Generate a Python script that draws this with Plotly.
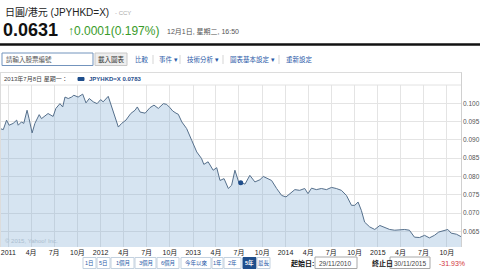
import plotly.graph_objects as go

# ---------------- data ----------------
dates = [
    "2010-11-29", "2010-12-12", "2010-12-25", "2011-01-04", "2011-01-20", "2011-02-03",
    "2011-02-09", "2011-02-22", "2011-03-03", "2011-03-16", "2011-03-24", "2011-04-05",
    "2011-04-16", "2011-05-03", "2011-05-12", "2011-05-25", "2011-06-07", "2011-06-27",
    "2011-07-08", "2011-07-24", "2011-08-04", "2011-08-13", "2011-08-26", "2011-09-08",
    "2011-09-17", "2011-10-04", "2011-10-22", "2011-11-04", "2011-11-17", "2011-12-03",
    "2011-12-18", "2012-01-01", "2012-01-11", "2012-01-31", "2012-02-10", "2012-02-27",
    "2012-03-11", "2012-03-24", "2012-04-10", "2012-04-29", "2012-05-16", "2012-05-25",
    "2012-06-05", "2012-06-25", "2012-07-14", "2012-07-30", "2012-08-16", "2012-09-05",
    "2012-09-18", "2012-10-01", "2012-10-12", "2012-10-25", "2012-11-03", "2012-11-17",
    "2012-12-06", "2012-12-26", "2013-01-15", "2013-02-03", "2013-02-12", "2013-03-01",
    "2013-03-21", "2013-04-04", "2013-04-17", "2013-05-03", "2013-05-20", "2013-06-02",
    "2013-06-15", "2013-07-02", "2013-07-08", "2013-07-25", "2013-08-13", "2013-09-02",
    "2013-09-22", "2013-10-05", "2013-10-25", "2013-11-07", "2013-11-27", "2013-12-17",
    "2014-01-03", "2014-01-19", "2014-02-07", "2014-02-26", "2014-03-18", "2014-03-31",
    "2014-04-14", "2014-05-03", "2014-05-23", "2014-06-12", "2014-07-02", "2014-07-21",
    "2014-08-10", "2014-08-30", "2014-09-19", "2014-10-02", "2014-10-15", "2014-10-28",
    "2014-11-10", "2014-11-30", "2014-12-20", "2015-01-09", "2015-01-28", "2015-02-17",
    "2015-03-09", "2015-03-29", "2015-04-17", "2015-05-06", "2015-05-26", "2015-06-15",
    "2015-07-05", "2015-07-24", "2015-08-13", "2015-08-30", "2015-09-15", "2015-10-05",
    "2015-10-18", "2015-11-08", "2015-11-30",
]
values = [
    0.0931, 0.0928, 0.0954, 0.0940, 0.0945, 0.0954,
    0.0940, 0.0949, 0.0945, 0.0981, 0.0958, 0.0919,
    0.0945, 0.0969, 0.0958, 0.0964, 0.0972, 0.0964,
    0.0986, 0.0999, 0.0990, 0.1017, 0.1013, 0.1017,
    0.1022, 0.1017, 0.1025, 0.1001, 0.1013, 0.1004,
    0.0999, 0.1010, 0.1004, 0.1019, 0.0999, 0.0967,
    0.0935, 0.0945, 0.0954, 0.0972, 0.0981, 0.0990,
    0.0976, 0.0973, 0.0988, 0.0995, 0.0986, 0.0999,
    0.0997, 0.0988, 0.0979, 0.0973, 0.0970, 0.0949,
    0.0931, 0.0899, 0.0867, 0.0849, 0.0833, 0.0840,
    0.0817, 0.0824, 0.0789, 0.0794, 0.0767, 0.0776,
    0.0817, 0.0780, 0.0783, 0.0779, 0.0803, 0.0785,
    0.0791, 0.0800, 0.0794, 0.0789, 0.0767, 0.0748,
    0.0744, 0.0753, 0.0764, 0.0762, 0.0767, 0.0753,
    0.0768, 0.0764, 0.0767, 0.0764, 0.0770, 0.0767,
    0.0762, 0.0748, 0.0721, 0.0721, 0.0730, 0.0707,
    0.0675, 0.0662, 0.0655, 0.0666, 0.0660, 0.0655,
    0.0653, 0.0655, 0.0655, 0.0653, 0.0634, 0.0633,
    0.0639, 0.0632, 0.0639, 0.0648, 0.0651, 0.0655,
    0.0645, 0.0642, 0.0634,
]

hover_date = "2013-07-08"
hover_value = 0.0783

x_tick_dates = [
    "2011-01-01", "2011-04-01", "2011-07-01", "2011-10-01",
    "2012-01-01", "2012-04-01", "2012-07-01", "2012-10-01",
    "2013-01-01", "2013-04-01", "2013-07-01", "2013-10-01",
    "2014-01-01", "2014-04-01", "2014-07-01", "2014-10-01",
    "2015-01-01", "2015-04-01", "2015-07-01", "2015-10-01",
]
x_tick_labels = [
    "2011", "4月", "7月", "10月", "2012", "4月", "7月", "10月",
    "2013", "4月", "7月", "10月", "2014", "4月", "7月", "10月",
    "2015", "4月", "7月", "10月",
]
y_tick_values = [0.065, 0.070, 0.075, 0.080, 0.085, 0.090, 0.095, 0.100]
y_tick_labels = ["0.065", "0.070", "0.075", "0.080", "0.085", "0.090", "0.095", "0.100"]

range_buttons = ["1日", "5日", "1個月", "3個月", "6個月", "今年以來", "1年", "2年", "5年", "最長"]
active_button = "5年"
toolbar_items = ["比較", "事件 ▾", "技術分析 ▾", "圖表基本設定 ▾", "重新設定"]

# ---------------- layout helpers ----------------
W, H = 480, 270
PL, PR, PT, PB = 0, 462, 85, 247
FONT = "Liberation Sans, Arial, Noto Sans CJK TC, sans-serif"


def px(x):
    return (x - PL) / (PR - PL)


def py(y):
    return (PB - y) / (PB - PT)


annotations = []
shapes = []


def text(x, y, s, size=7, color="#333", anchor="left", bold=False):
    if bold:
        s = "<b>" + s + "</b>"
    annotations.append(dict(
        x=px(x), y=py(y), xref="paper", yref="paper", text=s, showarrow=False,
        xanchor=anchor, yanchor="middle",
        font=dict(size=size, color=color, family=FONT),
    ))


def rect(x0, y0, x1, y1, line="#ccc", fill="rgba(0,0,0,0)", width=1):
    shapes.append(dict(
        type="rect", xref="paper", yref="paper",
        x0=px(x0), x1=px(x1), y0=py(y0), y1=py(y1),
        line=dict(color=line, width=width), fillcolor=fill, layer="above",
    ))


def hline(x0, x1, y, color="#ddd", width=1):
    shapes.append(dict(
        type="line", xref="paper", yref="paper",
        x0=px(x0), x1=px(x1), y0=py(y), y1=py(y),
        line=dict(color=color, width=width), layer="above",
    ))


def vline(x, y0, y1, color="#ddd", width=1):
    shapes.append(dict(
        type="line", xref="paper", yref="paper",
        x0=px(x), x1=px(x), y0=py(y0), y1=py(y1),
        line=dict(color=color, width=width), layer="above",
    ))


# ---------------- figure ----------------
fig = go.Figure()
fig.add_trace(go.Scatter(
    x=dates, y=values, mode="lines",
    line=dict(color="#56708c", width=1),
    fill="tozeroy", fillcolor="rgba(120,165,210,0.30)",
    hoverinfo="skip", showlegend=False,
))
fig.add_trace(go.Scatter(
    x=[hover_date], y=[values[dates.index(hover_date)]], mode="markers",
    marker=dict(color="#1f4e8c", size=5),
    hoverinfo="skip", showlegend=False,
))

# header
text(3, 12.5, "日圓/港元 (JPYHKD=X)", size=10, color="#222")
text(113, 13, "- CCY", size=6, color="#aaa")
text(1, 29.5, "0.0631", size=18, color="#111", bold=True)
text(66, 30.5, "↑0.0001(0.197%)", size=12, color="#3a9b2a")
text(165, 32, "12月1日, 星期二, 16:50", size=7, color="#555")
hline(0, 480, 44.5, color="#111", width=2.5)

# toolbar
rect(2, 53, 93, 65.5, line="#7394bd", fill="#ffffff")
text(4, 59.3, "請輸入股票編號", size=6.5, color="#555")
rect(95, 53, 127, 65.5, line="#c8c8c8", fill="#eeeeee")
text(111, 59.3, "載入圖表", size=6.5, color="#333", anchor="center")
tb_x = [133, 157, 185, 228, 284]
for xx, s in zip(tb_x, toolbar_items):
    text(xx, 59.3, s, size=6.5, color="#2b5aa8")
for xx in [153, 180, 223, 279]:
    vline(xx, 55, 64, color="#d5d5d5")

# chart frame and legend band
hline(0, 462, 72.5, color="#dcdcdc")
hline(0, 462, 85, color="#e2e2e2")
vline(461.5, 72.5, 247, color="#d0d0d0")
vline(0.5, 72.5, 247, color="#dcdcdc")
text(2, 79, "2013年7月8日 星期一：", size=6, color="#444")
rect(78, 77.5, 84, 80.5, line="#1f4e8c", fill="#1f4e8c")
text(87, 79, "JPYHKD=X %.4f" % hover_value, size=6, color="#1f4e8c", bold=True)
text(3, 241, "© 2015, Yahoo! Inc.", size=6, color="#aabdcf")

# bottom bar
cells = [(83, 96), (97, 110), (111, 134), (135, 156), (157, 179),
         (181, 211), (212, 223), (224, 241), (243, 256), (257, 270)]
for (x0, x1), s in zip(cells, range_buttons):
    if s == active_button:
        rect(x0, 257.5, x1, 268.5, line="#1f4e8c", fill="#1f4e8c")
        text((x0 + x1) / 2, 263, s, size=5.5, color="#ffffff", anchor="center", bold=True)
    else:
        rect(x0, 257.5, x1, 268.5, line="#c3d1df", fill="#ffffff")
        text((x0 + x1) / 2, 263, s, size=5.5, color="#2b5aa8", anchor="center")

text(289, 263, "起始日:", size=7, color="#111", bold=True)
rect(315, 257, 357, 268.5, line="#a8a8a8", fill="#ffffff")
text(317, 263, "29/11/2010", size=6.5, color="#444")
text(370, 263, "終止日", size=7, color="#111", bold=True)
rect(390, 257, 430, 268.5, line="#a8a8a8", fill="#ffffff")
text(392, 263, "30/11/2015", size=6.5, color="#444")
text(437, 263, "-31.93%", size=7, color="#d3343a")

fig.update_layout(
    width=W, height=H,
    margin=dict(l=PL, r=W - PR, t=PT, b=H - PB, pad=0),
    paper_bgcolor="#ffffff", plot_bgcolor="#ffffff",
    showlegend=False,
    annotations=annotations, shapes=shapes,
    xaxis=dict(
        type="date", range=["2010-11-29", "2015-11-30"],
        tickmode="array", tickvals=x_tick_dates, ticktext=x_tick_labels,
        showgrid=True, gridcolor="#e4e4e4", gridwidth=1,
        zeroline=False, showline=False, ticks="",
        tickfont=dict(size=7, color="#222", family=FONT),
        fixedrange=True,
    ),
    yaxis=dict(
        range=[0.06071, 0.105], side="right",
        tickmode="array", tickvals=y_tick_values, ticktext=y_tick_labels,
        showgrid=True, gridcolor="#e4e4e4", gridwidth=1,
        zeroline=False, showline=False, ticks="",
        tickfont=dict(size=6.5, color="#555", family=FONT),
        fixedrange=True,
    ),
)

fig.write_html("out.html")
